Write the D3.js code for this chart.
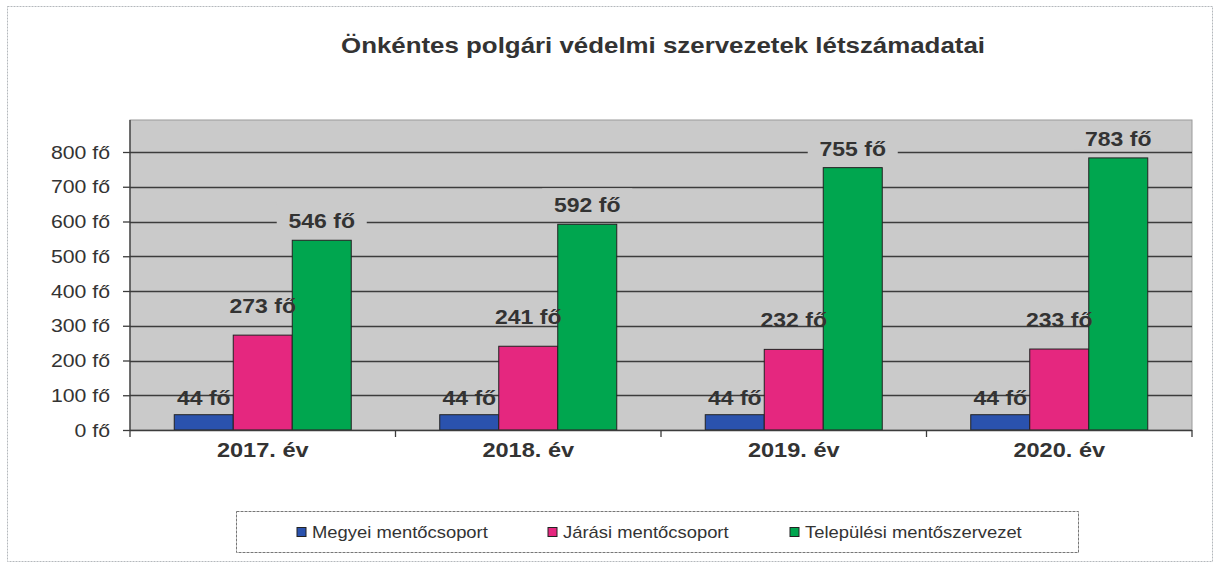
<!DOCTYPE html>
<html>
<head>
<meta charset="utf-8">
<script src="https://cdn.jsdelivr.net/npm/d3@7"></script>
<style>
  html, body { margin: 0; padding: 0; background: #fff; }
  svg { display: block; }
  text { font-family: "Liberation Sans", Arial, sans-serif; }
</style>
</head>
<body>
<svg id="chart" width="1214" height="563"></svg>
<script>
const title = "Önkéntes polgári védelmi szervezetek létszámadatai";
const categories = ["2017. év", "2018. év", "2019. év", "2020. év"];
const seriesNames = ["Megyei mentőcsoport", "Járási mentőcsoport", "Települési mentőszervezet"];
const megyei = [44, 44, 44, 44];
const jarasi = [273, 241, 232, 233];
const telepulesi = [546, 592, 755, 783];
const yTicks = [0, 100, 200, 300, 400, 500, 600, 700, 800];
const unit = " fő";

const seriesValues = [megyei, jarasi, telepulesi];
const colors = ["#2A52AE", "#E5277F", "#00A64F"];
const labelOffsets = [17, 29, 19];
const SX = 1.15;

const svg = d3.select("#chart");
const plot = { left: 130, right: 1192, top: 120, bottom: 430 };

// outer border
svg.append("rect")
  .attr("x", 7.5).attr("y", 6.5).attr("width", 1205).attr("height", 555)
  .attr("fill", "#fff").attr("stroke", "#b4b8bc").attr("stroke-width", 1)
  .attr("stroke-dasharray", "2,1");

const x = d3.scaleBand().domain(categories).range([plot.left, plot.right]).padding(0);
const xi = d3.scaleBand().domain(d3.range(seriesNames.length)).range([0, x.bandwidth()])
  .paddingInner(0).paddingOuter(0.75);
const y = d3.scaleLinear().domain([0, 800]).range([plot.bottom, 152]);

function stext(sel, px, py) {
  return sel.attr("transform", `translate(${px},${py}) scale(${SX},1)`);
}

// plot background
svg.append("rect")
  .attr("x", plot.left).attr("y", plot.top)
  .attr("width", plot.right - plot.left).attr("height", plot.bottom - plot.top)
  .attr("fill", "#CACACA").attr("stroke", "#9a9a9a").attr("stroke-width", 1);

// gridlines
svg.append("g").selectAll("line").data(yTicks.filter(d => d > 0)).join("line")
  .attr("x1", plot.left).attr("x2", plot.right)
  .attr("y1", d => Math.round(y(d)) + 0.5).attr("y2", d => Math.round(y(d)) + 0.5)
  .attr("stroke", "#3c3c3c").attr("stroke-width", 1.3);

// y axis
const yAxis = svg.append("g").attr("transform", `translate(${plot.left},0)`)
  .call(d3.axisLeft(y).tickValues(yTicks).tickSize(7).tickPadding(0).tickFormat(""));
yAxis.select(".domain").remove();
yAxis.append("line").attr("x1", 0).attr("x2", 0).attr("y1", plot.top).attr("y2", plot.bottom)
  .attr("stroke", "#3c3c3c").attr("stroke-width", 1.3);
yAxis.selectAll(".tick line").attr("stroke", "#3c3c3c").attr("stroke-width", 1.3);
svg.append("g").selectAll("text").data(yTicks).join("text")
  .each(function(d) { stext(d3.select(this), 110, y(d) + 6.5); })
  .attr("text-anchor", "end").attr("font-size", 18.5).attr("fill", "#333")
  .text(d => d + unit);

// bars
const groups = svg.append("g").selectAll("g").data(categories).join("g")
  .attr("transform", d => `translate(${x(d)},0)`);
groups.selectAll("rect").data((c, ci) => seriesValues.map((vals, si) => ({ si, v: vals[ci] })))
  .join("rect")
  .attr("x", d => xi(d.si)).attr("width", xi.bandwidth())
  .attr("y", d => y(d.v)).attr("height", d => y(0) - y(d.v))
  .attr("fill", d => colors[d.si]).attr("stroke", "#222").attr("stroke-width", 1);

// x axis
const xAxisG = svg.append("g").attr("transform", `translate(0,${plot.bottom})`);
xAxisG.append("line").attr("x1", plot.left).attr("x2", plot.right).attr("y1", 0.5).attr("y2", 0.5)
  .attr("stroke", "#3c3c3c").attr("stroke-width", 1.3);
xAxisG.selectAll("line.tk").data(categories.concat([null])).join("line").attr("class", "tk")
  .attr("x1", (d, i) => d ? x(d) : plot.right).attr("x2", (d, i) => d ? x(d) : plot.right)
  .attr("y1", 0).attr("y2", 7).attr("stroke", "#3c3c3c").attr("stroke-width", 1.3);
svg.append("g").selectAll("text").data(categories).join("text")
  .each(function(d) { stext(d3.select(this), x(d) + x.bandwidth() / 2, 456.5); })
  .attr("text-anchor", "middle").attr("font-size", 20.5).attr("font-weight", "bold").attr("fill", "#333")
  .text(d => d);

// data labels
const labels = [];
categories.forEach((c, ci) => seriesValues.forEach((vals, si) => {
  labels.push({ c, si, v: vals[ci] });
}));
const lblG = svg.append("g");
labels.forEach(d => {
  const cx = x(d.c) + xi(d.si) + xi.bandwidth() / 2;
  const cy = y(d.v) - labelOffsets[d.si];
  if (d.si === 2) {
    lblG.append("rect").attr("x", cx - 45).attr("y", cy - 17).attr("width", 90).attr("height", 28)
      .attr("fill", "#CACACA");
  }
  stext(lblG.append("text"), cx, cy + 7)
    .attr("text-anchor", "middle").attr("font-size", 20).attr("font-weight", "bold")
    .attr("fill", "#333").text(d.v + unit);
});

// title
stext(svg.append("text"), 663, 52.5)
  .attr("text-anchor", "middle").attr("font-size", 22.5).attr("font-weight", "bold")
  .attr("fill", "#333").text(title);

// legend
svg.append("rect").attr("x", 236.5).attr("y", 511.5).attr("width", 842).attr("height", 41)
  .attr("fill", "#fff").attr("stroke", "#777").attr("stroke-width", 1).attr("stroke-dasharray", "3,1");
const legendX = [297, 548, 790];
const lg = svg.append("g").selectAll("g").data(seriesNames).join("g")
  .attr("transform", (d, i) => `translate(${legendX[i]},532)`);
lg.append("rect").attr("x", 0).attr("y", -4.5).attr("width", 9).attr("height", 9)
  .attr("fill", (d, i) => colors[i]).attr("stroke", "#222").attr("stroke-width", 1);
lg.append("text").attr("transform", `translate(15,6) scale(${SX},1)`)
  .attr("font-size", 16).attr("fill", "#333").text(d => d);
</script>
</body>
</html>
